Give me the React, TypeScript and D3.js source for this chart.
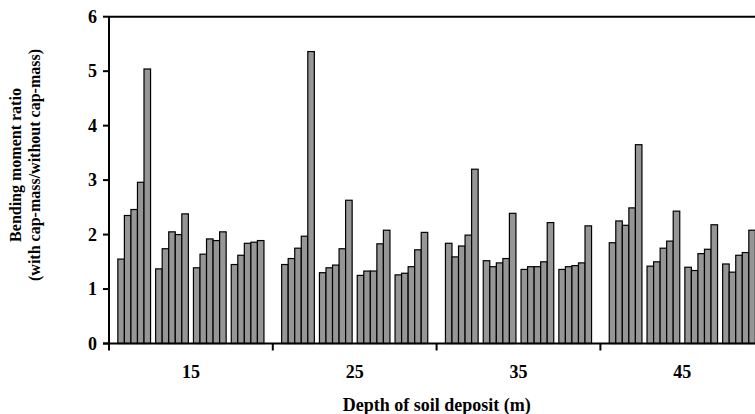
import React from "react";
import * as d3 from "d3";

// depth of soil deposit, four cases per depth, five bars per case
const depths = ["15", "25", "35", "45"];
const cases = [0, 1, 2, 3];
const bars = [0, 1, 2, 3, 4];
const yTicks = [0, 1, 2, 3, 4, 5, 6];

const ratio15 = [
  [1.55, 2.35, 2.46, 2.96, 5.04],
  [1.37, 1.74, 2.05, 2.0, 2.38],
  [1.39, 1.64, 1.92, 1.89, 2.05],
  [1.45, 1.62, 1.84, 1.86, 1.89],
];
const ratio25 = [
  [1.45, 1.56, 1.75, 1.97, 5.36],
  [1.3, 1.39, 1.44, 1.74, 2.63],
  [1.25, 1.33, 1.33, 1.83, 2.08],
  [1.26, 1.29, 1.41, 1.72, 2.04],
];
const ratio35 = [
  [1.84, 1.59, 1.79, 1.99, 3.2],
  [1.52, 1.41, 1.48, 1.56, 2.39],
  [1.36, 1.41, 1.41, 1.5, 2.22],
  [1.36, 1.41, 1.43, 1.48, 2.16],
];
const ratio45 = [
  [1.85, 2.25, 2.17, 2.49, 3.65],
  [1.42, 1.5, 1.75, 1.88, 2.43],
  [1.4, 1.34, 1.65, 1.73, 2.18],
  [1.46, 1.31, 1.62, 1.67, 2.08],
];
const ratios = [ratio15, ratio25, ratio35, ratio45];

const width = 755;
const height = 414;
const left = 109;
const top = 16.7;
const bottom = 343.5;
const font = "'Liberation Serif', 'Times New Roman', serif";

export default function App() {
  const x0 = d3
    .scaleBand<string>()
    .domain(depths)
    .range([left, left + 4 * 163.8])
    .paddingInner(0.108)
    .paddingOuter(0.054);
  const x1 = d3
    .scaleBand<number>()
    .domain(cases)
    .range([0, x0.bandwidth()])
    .paddingInner(0.135);
  const x2 = d3.scaleBand<number>().domain(bars).range([0, x1.bandwidth()]);
  const y = d3.scaleLinear().domain([0, 6]).range([bottom, top]);

  const gap = (x0.step() - x0.bandwidth()) / 2;
  const tickX = depths.map((d) => (x0(d) as number) - gap).slice(1);
  tickX.unshift(left);

  return (
    <svg
      width={width}
      height={height}
      style={{ position: "absolute", left: 0, top: 0, background: "#fff" }}
    >
      {depths.map((d, gi) => (
        <g key={d} transform={`translate(${x0(d)},0)`}>
          {cases.map((c) => (
            <g key={c} transform={`translate(${x1(c)},0)`}>
              {bars.map((b) => {
                const v = ratios[gi][c][b];
                return (
                  <rect
                    key={b}
                    x={x2(b)}
                    y={y(v)}
                    width={x2.bandwidth()}
                    height={y(0) - y(v)}
                    fill="#969696"
                    stroke="#000"
                    strokeWidth={1.2}
                  />
                );
              })}
            </g>
          ))}
        </g>
      ))}

      {/* frame */}
      <line x1={left} x2={width} y1={top} y2={top} stroke="#000" strokeWidth={2} />
      <line x1={left} x2={left} y1={top} y2={bottom} stroke="#000" strokeWidth={2} />
      <line x1={left - 6} x2={width} y1={bottom} y2={bottom} stroke="#000" strokeWidth={2} />

      {/* y axis */}
      {yTicks.map((t) => (
        <g key={t}>
          <line x1={left - 6} x2={left} y1={y(t)} y2={y(t)} stroke="#000" strokeWidth={2} />
          <text
            x={97}
            y={y(t)}
            dy="0.35em"
            textAnchor="end"
            fontFamily={font}
            fontWeight="bold"
            fontSize={18}
          >
            {t}
          </text>
        </g>
      ))}

      {/* x axis */}
      {tickX.map((tx, i) => (
        <line key={i} x1={tx} x2={tx} y1={bottom} y2={bottom + 7} stroke="#000" strokeWidth={2} />
      ))}
      {depths.map((d) => (
        <text
          key={d}
          x={(x0(d) as number) + x0.bandwidth() / 2}
          y={378.3}
          textAnchor="middle"
          fontFamily={font}
          fontWeight="bold"
          fontSize={18}
        >
          {d}
        </text>
      ))}

      <text
        x={436.7}
        y={410.7}
        textAnchor="middle"
        fontFamily={font}
        fontWeight="bold"
        fontSize={18}
      >
        Depth of soil deposit (m)
      </text>

      <g transform="translate(0,165) rotate(-90)" fontFamily={font} fontWeight="bold" fontSize={16}>
        <text x={0} y={21} textAnchor="middle">
          Bending moment ratio
        </text>
        <text x={0} y={40} textAnchor="middle">
          (with cap-mass/without cap-mass)
        </text>
      </g>
    </svg>
  );
}
